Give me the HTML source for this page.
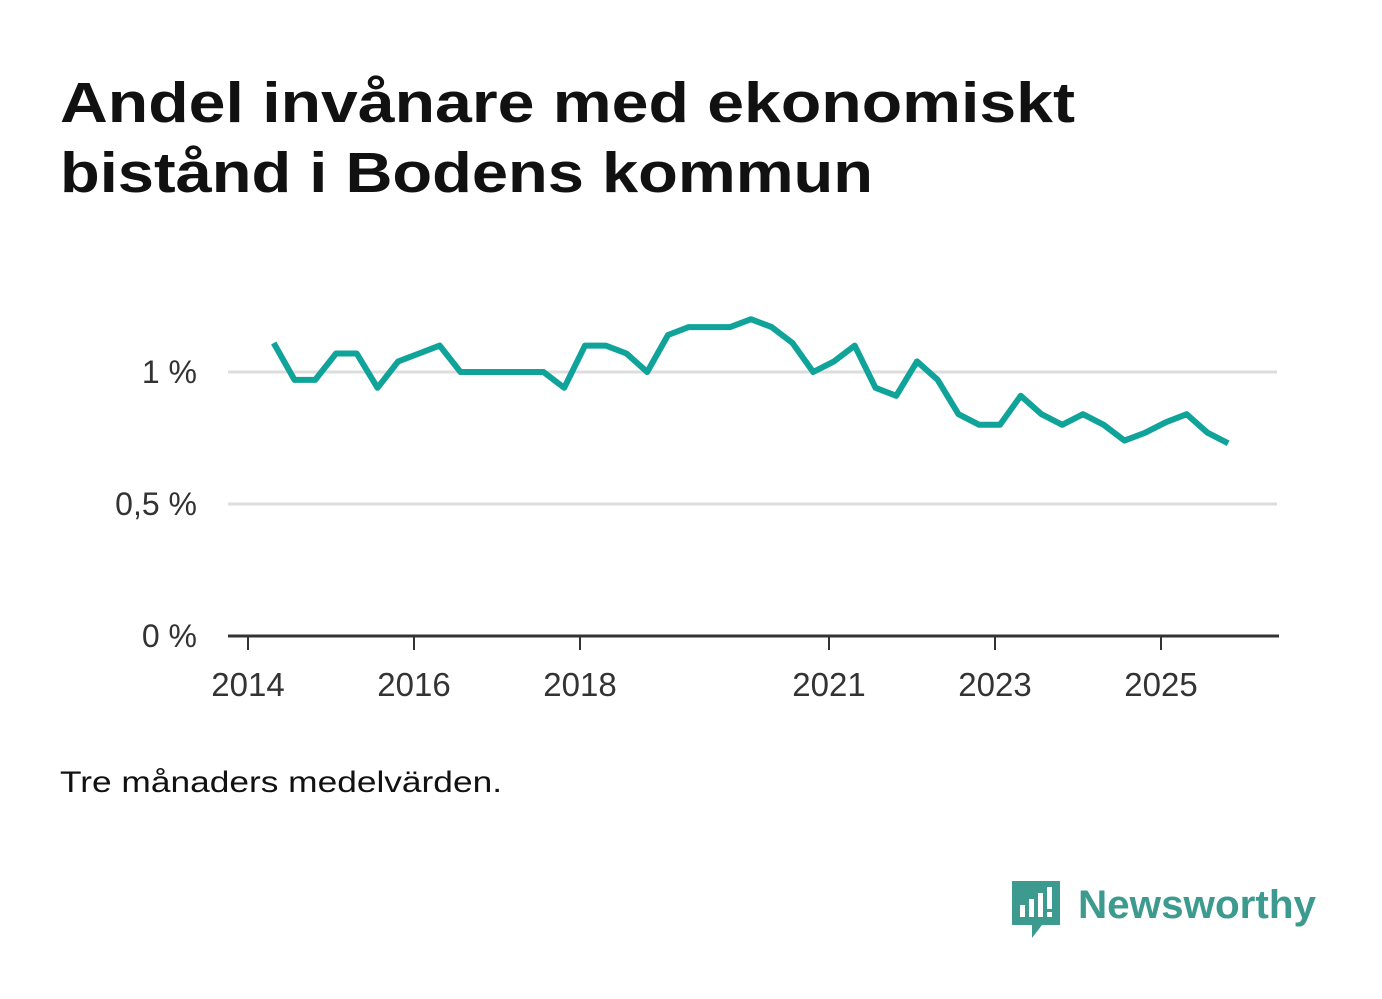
<!DOCTYPE html>
<html><head><meta charset="utf-8"><style>
body{margin:0;background:#fff;width:1382px;height:999px;overflow:hidden;font-family:"Liberation Sans",sans-serif}
</style></head><body>
<svg width="1382" height="999" style="position:absolute;left:0;top:0">
<text x="60" y="122" font-size="57" font-weight="bold" fill="#111" textLength="1015" lengthAdjust="spacingAndGlyphs">Andel invånare med ekonomiskt</text>
<text x="60" y="192" font-size="57" font-weight="bold" fill="#111" textLength="813" lengthAdjust="spacingAndGlyphs">bistånd i Bodens kommun</text>
<g id="grid"></g><g id="xaxis"></g>
<path id="line" fill="none" stroke="#0fa39a" stroke-width="6" stroke-linejoin="round"/>
<text x="60" y="792" font-size="30" fill="#111" textLength="442" lengthAdjust="spacingAndGlyphs">Tre månaders medelvärden.</text>
<g>
<path d="M1012 881h48v44h-18l-10 13v-13h-20z" fill="#3d9a8f"/>
<rect x="1020" y="905" width="5" height="12" fill="#fff"/><rect x="1029" y="899" width="5" height="18" fill="#fff"/><rect x="1038" y="893" width="5" height="24" fill="#fff"/><rect x="1047" y="887" width="5" height="22" fill="#fff"/><rect x="1047" y="912" width="5" height="5" fill="#fff"/>
<text x="1078" y="918" font-size="40" font-weight="bold" fill="#3d9a8f" textLength="238" lengthAdjust="spacingAndGlyphs">Newsworthy</text>
</g>
</svg>
<script>
const yTicks=[0,0.5,1];
const yLabels=["0 %","0,5 %","1 %"];
const xTicks=[2014,2016,2018,2021,2023,2025];
const startYear=2014.31;
const values=[1.11,0.97,0.97,1.07,1.07,0.94,1.04,1.07,1.10,1.00,1.00,1.00,1.00,1.00,0.94,1.10,1.10,1.07,1.00,1.14,1.17,1.17,1.17,1.20,1.17,1.11,1.00,1.04,1.10,0.94,0.91,1.04,0.97,0.84,0.80,0.80,0.91,0.84,0.80,0.84,0.80,0.74,0.77,0.81,0.84,0.77,0.73];
const ns="http://www.w3.org/2000/svg";
const y=v=>636-v*264, x=t=>248+(t-2014)*83;
const grid=document.getElementById('grid'),xa=document.getElementById('xaxis');
yTicks.forEach((t,i)=>{
 if(t>0){const l=document.createElementNS(ns,'line');
 
 
 l.setAttribute('x1',228);l.setAttribute('x2',1277);l.setAttribute('y1',y(t));l.setAttribute('y2',y(t));l.setAttribute('stroke','#ddd');l.setAttribute('stroke-width',3);grid.appendChild(l);}
 const tx=document.createElementNS(ns,'text');
 
 
 tx.setAttribute('x',197);tx.setAttribute('y',y(t)+11);tx.setAttribute('text-anchor','end');tx.setAttribute('font-size',32);tx.setAttribute('fill','#333');tx.textContent=yLabels[i];grid.appendChild(tx);
});
const ax=document.createElementNS(ns,'line');


ax.setAttribute('x1',228);ax.setAttribute('x2',1279);ax.setAttribute('y1',636);ax.setAttribute('y2',636);ax.setAttribute('stroke','#333');ax.setAttribute('stroke-width',3);xa.appendChild(ax);
xTicks.forEach(t=>{
 const l=document.createElementNS(ns,'line');
 
 
 l.setAttribute('x1',x(t));l.setAttribute('x2',x(t));l.setAttribute('y1',636);l.setAttribute('y2',650);l.setAttribute('stroke','#333');l.setAttribute('stroke-width',2);xa.appendChild(l);
 const tx=document.createElementNS(ns,'text');
 
 
 tx.setAttribute('x',x(t));tx.setAttribute('y',696);tx.setAttribute('text-anchor','middle');tx.setAttribute('font-size',33);tx.setAttribute('fill','#333');tx.textContent=t;xa.appendChild(tx);
});
document.getElementById('line').setAttribute('d',values.map((v,i)=>(i?'L':'M')+x(startYear+i*0.25).toFixed(1)+' '+y(v).toFixed(1)).join(''));
</script>
</body></html>
